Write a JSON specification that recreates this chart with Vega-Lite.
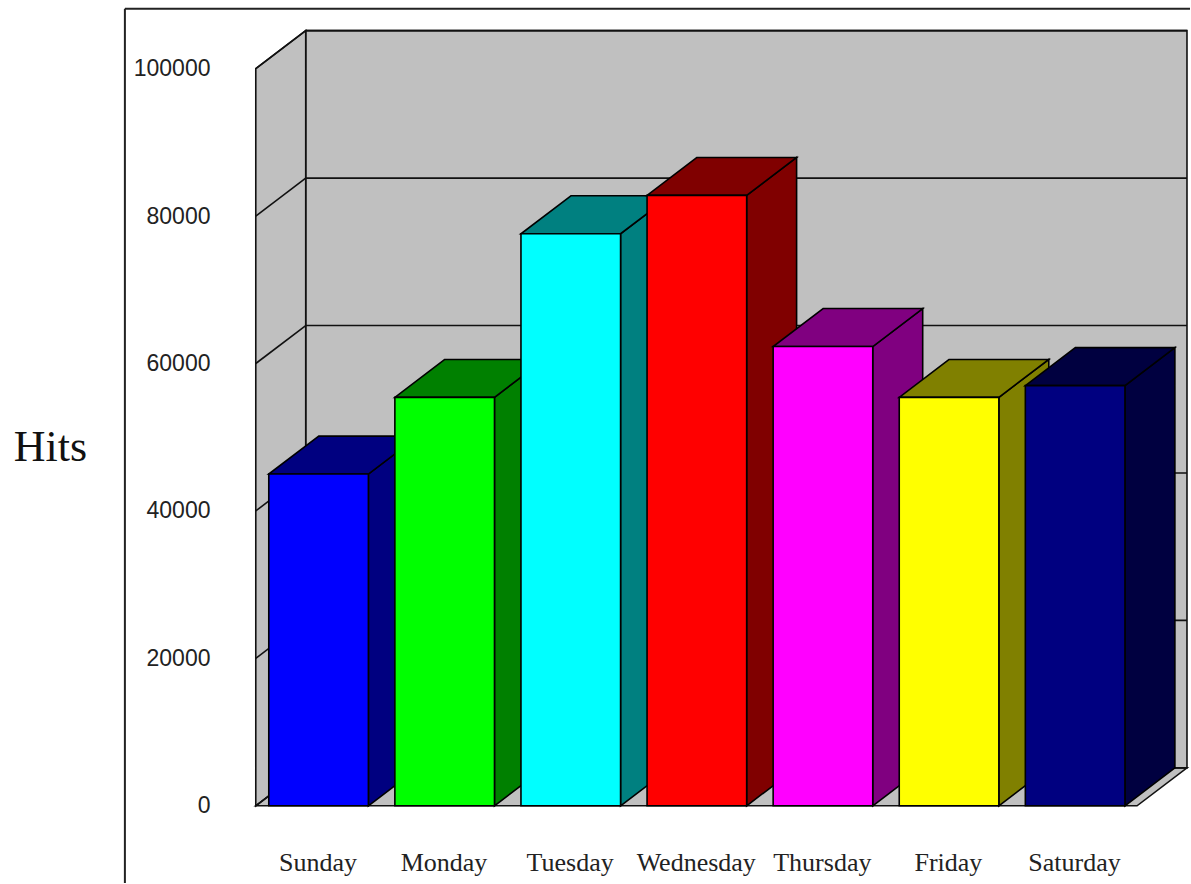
{
  "$schema": "https://vega.github.io/schema/vega-lite/v6.json",
  "width": 1191,
  "height": 884,
  "padding": 0,
  "autosize": {"type": "fit", "contains": "padding"},
  "background": "#ffffff",
  "config": {"view": {"stroke": null}},
  "resolve": {"axis": {"y": "independent"}},
  "datasets": {
    "days": [
      {"day": "Sunday", "slot": 0, "hits": 45000},
      {"day": "Monday", "slot": 1, "hits": 55400},
      {"day": "Tuesday", "slot": 2, "hits": 77600},
      {"day": "Wednesday", "slot": 3, "hits": 82800},
      {"day": "Thursday", "slot": 4, "hits": 62300},
      {"day": "Friday", "slot": 5, "hits": 55400},
      {"day": "Saturday", "slot": 6, "hits": 57000}
    ],
    "levels": [
      {"level": 0}, {"level": 20000}, {"level": 40000},
      {"level": 60000}, {"level": 80000}, {"level": 100000}
    ],
    "single": [{"note": "room"}]
  },
  "layer": [
    {
      "description": "Back wall of the 3D chart box, with the hits axis",
      "data": {"name": "single"},
      "mark": {"type": "rect", "fill": "#c0c0c0", "stroke": "#111111", "strokeWidth": 1.6},
      "encoding": {
        "x": {
          "datum": 0.293,
          "type": "quantitative",
          "scale": {"domain": [-2.1315, 7.3059], "nice": false, "zero": false},
          "axis": null
        },
        "x2": {"datum": 7.282},
        "y": {
          "datum": 5150,
          "type": "quantitative",
          "scale": {"domain": [-10474, 109309], "nice": false, "zero": false},
          "axis": {
            "values": [0, 20000, 40000, 60000, 80000, 100000],
            "format": "d",
            "offset": -212,
            "grid": false,
            "domain": false,
            "ticks": false,
            "labelPadding": 2,
            "labelFont": "Liberation Sans",
            "labelFontSize": 23,
            "labelColor": "#222222",
            "title": "Hits",
            "titleFont": "Liberation Serif",
            "titleFontSize": 44,
            "titleFontWeight": "normal",
            "titleColor": "#111111",
            "titleAngle": 0,
            "titleAlign": "center",
            "titleBaseline": "middle",
            "titleX": -162,
            "titleY": 447
          }
        },
        "y2": {"datum": 105150}
      }
    },
    {
      "description": "Side wall on the left",
      "data": {"name": "single"},
      "transform": [
        {"calculate": "[0, 1]", "as": "depth"},
        {"flatten": ["depth"]},
        {"calculate": "-0.103 + datum.depth * 0.396", "as": "wallX"},
        {"calculate": "datum.depth * 5150", "as": "wallLow"},
        {"calculate": "100000 + datum.depth * 5150", "as": "wallHigh"}
      ],
      "mark": {"type": "area", "orient": "vertical", "fill": "#c0c0c0", "stroke": "#111111", "strokeWidth": 1.6},
      "encoding": {
        "x": {"field": "wallX", "type": "quantitative", "axis": null},
        "y": {"field": "wallHigh", "type": "quantitative", "axis": null},
        "y2": {"field": "wallLow"}
      }
    },
    {
      "description": "Floor of the box",
      "data": {"name": "single"},
      "transform": [
        {"calculate": "[0, 1]", "as": "depth"},
        {"flatten": ["depth"]},
        {"calculate": "-0.103 + datum.depth * 0.396", "as": "floorLeft"},
        {"calculate": "6.886 + datum.depth * 0.396", "as": "floorRight"},
        {"calculate": "datum.depth * 5150", "as": "floorY"}
      ],
      "mark": {"type": "area", "orient": "horizontal", "fill": "#c0c0c0", "stroke": "#111111", "strokeWidth": 1.6},
      "encoding": {
        "y": {"field": "floorY", "type": "quantitative", "axis": null},
        "x": {"field": "floorLeft", "type": "quantitative", "axis": null},
        "x2": {"field": "floorRight"}
      }
    },
    {
      "description": "Gridlines running across the back wall",
      "data": {"name": "levels"},
      "transform": [{"calculate": "datum.level + 5150", "as": "backLevel"}],
      "mark": {"type": "rule", "color": "#111111", "strokeWidth": 1.6},
      "encoding": {
        "x": {"datum": 0.293, "type": "quantitative", "axis": null},
        "x2": {"datum": 7.282},
        "y": {"field": "backLevel", "type": "quantitative", "axis": null}
      }
    },
    {
      "description": "Gridlines slanting along the side wall",
      "data": {"name": "levels"},
      "transform": [
        {"calculate": "[0, 1]", "as": "depth"},
        {"flatten": ["depth"]},
        {"calculate": "-0.103 + datum.depth * 0.396", "as": "wallX"},
        {"calculate": "datum.level + datum.depth * 5150", "as": "wallY"}
      ],
      "mark": {"type": "line", "color": "#111111", "strokeWidth": 1.6},
      "encoding": {
        "x": {"field": "wallX", "type": "quantitative", "axis": null},
        "y": {"field": "wallY", "type": "quantitative", "axis": null},
        "detail": {"field": "level", "type": "nominal"}
      }
    },
    {
      "description": "Shaded right-hand side of each bar",
      "data": {"name": "days"},
      "transform": [
        {"calculate": "[0, 1]", "as": "depth"},
        {"flatten": ["depth"]},
        {"calculate": "datum.slot + 0.79 + datum.depth * 0.396", "as": "sideX"},
        {"calculate": "datum.hits + datum.depth * 5150", "as": "sideTop"},
        {"calculate": "datum.depth * 5150", "as": "sideBottom"}
      ],
      "mark": {"type": "area", "orient": "vertical", "stroke": "#000000", "strokeWidth": 1.6},
      "encoding": {
        "x": {"field": "sideX", "type": "quantitative", "axis": null},
        "y": {"field": "sideTop", "type": "quantitative", "axis": null},
        "y2": {"field": "sideBottom"},
        "color": {
          "field": "day",
          "type": "nominal",
          "legend": null,
          "sort": null,
          "scale": {
            "domain": ["Sunday", "Monday", "Tuesday", "Wednesday", "Thursday", "Friday", "Saturday"],
            "range": ["#000080", "#008000", "#008080", "#800000", "#800080", "#808000", "#000040"]
          }
        }
      }
    },
    {
      "description": "Shaded top of each bar",
      "data": {"name": "days"},
      "transform": [
        {"calculate": "[0, 1]", "as": "depth"},
        {"flatten": ["depth"]},
        {"calculate": "datum.slot + datum.depth * 0.396", "as": "topLeft"},
        {"calculate": "datum.slot + 0.79 + datum.depth * 0.396", "as": "topRight"},
        {"calculate": "datum.hits + datum.depth * 5150", "as": "topY"}
      ],
      "mark": {"type": "area", "orient": "horizontal", "stroke": "#000000", "strokeWidth": 1.6},
      "encoding": {
        "y": {"field": "topY", "type": "quantitative", "axis": null},
        "x": {"field": "topLeft", "type": "quantitative", "axis": null},
        "x2": {"field": "topRight"},
        "color": {
          "field": "day",
          "type": "nominal",
          "legend": null,
          "sort": null,
          "scale": {
            "domain": ["Sunday", "Monday", "Tuesday", "Wednesday", "Thursday", "Friday", "Saturday"],
            "range": ["#000080", "#008000", "#008080", "#800000", "#800080", "#808000", "#000040"]
          }
        }
      }
    },
    {
      "description": "Front face of each bar",
      "data": {"name": "days"},
      "transform": [{"calculate": "datum.slot + 0.79", "as": "slotEnd"}],
      "mark": {"type": "rect", "stroke": "#000000", "strokeWidth": 1.6},
      "encoding": {
        "x": {"field": "slot", "type": "quantitative", "axis": null},
        "x2": {"field": "slotEnd"},
        "y": {"field": "hits", "type": "quantitative", "axis": null},
        "y2": {"datum": 0},
        "fill": {
          "field": "day",
          "type": "nominal",
          "legend": null,
          "sort": null,
          "scale": {
            "domain": ["Sunday", "Monday", "Tuesday", "Wednesday", "Thursday", "Friday", "Saturday"],
            "range": ["#0000ff", "#00ff00", "#00ffff", "#ff0000", "#ff00ff", "#ffff00", "#000080"]
          }
        }
      }
    },
    {
      "description": "Day names under the bars",
      "data": {"name": "days"},
      "transform": [{"calculate": "datum.slot + 0.39", "as": "slotMiddle"}],
      "mark": {"type": "text", "font": "Liberation Serif", "fontSize": 26, "color": "#222222", "align": "center", "baseline": "middle"},
      "encoding": {
        "x": {"field": "slotMiddle", "type": "quantitative", "axis": null},
        "y": {"datum": -7720, "type": "quantitative", "axis": null},
        "text": {"field": "day", "type": "nominal"}
      }
    },
    {
      "description": "Frame around the chart, left edge",
      "data": {"name": "single"},
      "mark": {"type": "rule", "color": "#222222", "strokeWidth": 2},
      "encoding": {
        "x": {"datum": -1.141, "type": "quantitative", "axis": null},
        "y": {"datum": 108130, "type": "quantitative", "axis": null},
        "y2": {"datum": -10474}
      }
    },
    {
      "description": "Frame around the chart, top edge",
      "data": {"name": "single"},
      "mark": {"type": "rule", "color": "#222222", "strokeWidth": 2},
      "encoding": {
        "x": {"datum": -1.141, "type": "quantitative", "axis": null},
        "x2": {"datum": 7.3059},
        "y": {"datum": 108130, "type": "quantitative", "axis": null}
      }
    }
  ]
}
